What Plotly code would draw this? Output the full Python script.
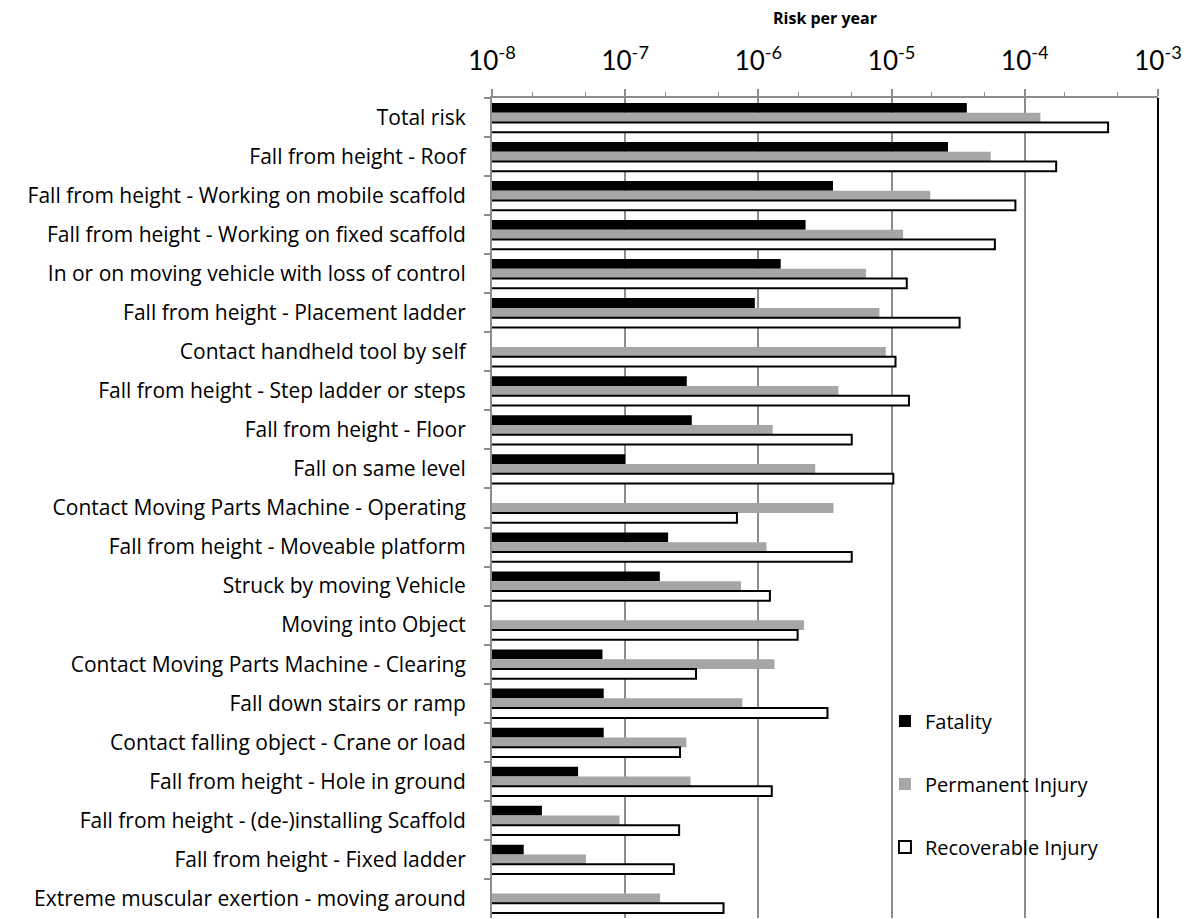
import plotly.graph_objects as go

# Risk categories, listed top to bottom
categories = [
    "Total risk",
    "Fall from height - Roof",
    "Fall from height - Working on mobile scaffold",
    "Fall from height - Working on fixed scaffold",
    "In or on moving vehicle with loss of control",
    "Fall from height - Placement ladder",
    "Contact handheld tool by self",
    "Fall from height - Step ladder or steps",
    "Fall from height - Floor",
    "Fall on same level",
    "Contact Moving Parts Machine - Operating",
    "Fall from height - Moveable platform",
    "Struck by moving Vehicle",
    "Moving into Object",
    "Contact Moving Parts Machine - Clearing",
    "Fall down stairs or ramp",
    "Contact falling object - Crane or load",
    "Fall from height - Hole in ground",
    "Fall from height - (de-)installing Scaffold",
    "Fall from height - Fixed ladder",
    "Extreme muscular exertion - moving around",
]

# Risk per year for each consequence class
fatality = [
    3.67e-5, 2.65e-5, 3.63e-6, 2.26e-6, 1.47e-6, 9.4e-7, None,
    2.9e-7, 3.16e-7, 1.0e-7, None, 2.1e-7, 1.82e-7, None,
    6.75e-8, 6.9e-8, 6.9e-8, 4.43e-8, 2.37e-8, 1.73e-8, None,
]
permanent_injury = [
    1.31e-4, 5.55e-5, 1.95e-5, 1.22e-5, 6.43e-6, 8.1e-6, 9.04e-6,
    3.99e-6, 1.28e-6, 2.67e-6, 3.66e-6, 1.15e-6, 7.4e-7, 2.2e-6,
    1.32e-6, 7.57e-7, 2.88e-7, 3.09e-7, 9.06e-8, 5.07e-8, 1.83e-7,
]
recoverable_injury = [
    4.22e-4, 1.72e-4, 8.5e-5, 5.96e-5, 1.30e-5, 3.24e-5, 1.07e-5,
    1.35e-5, 5.02e-6, 1.03e-5, 6.9e-7, 5.02e-6, 1.22e-6, 1.97e-6,
    3.4e-7, 3.3e-6, 2.58e-7, 1.26e-6, 2.54e-7, 2.32e-7, 5.47e-7,
]

tick_values = [1e-8, 1e-7, 1e-6, 1e-5, 1e-4, 1e-3]
tick_labels = ["10<sup>-8</sup>", "10<sup>-7</sup>", "10<sup>-6</sup>",
               "10<sup>-5</sup>", "10<sup>-4</sup>", "10<sup>-3</sup>"]

FONT = "'Open Sans', Lato, sans-serif"
TICKFONT = "Lato, 'Open Sans', sans-serif"
GRID = "#8c8c8c"

fig = go.Figure()
fig.add_trace(go.Bar(
    y=categories, x=fatality, orientation="h", name="Fatality",
    legendgroup="f", marker=dict(color="#000000", line=dict(width=0)),
))
fig.add_trace(go.Bar(
    y=categories, x=permanent_injury, orientation="h", name="Permanent Injury",
    legendgroup="p", marker=dict(color="#a6a6a6", line=dict(width=0)),
))
fig.add_trace(go.Bar(
    y=categories, x=recoverable_injury, orientation="h", name="Recoverable Injury",
    legendgroup="r", marker=dict(color="#ffffff", line=dict(color="#000000", width=2)),
))

fig.update_layout(
    width=1203, height=919,
    margin=dict(l=492, r=45, t=98, b=1),
    paper_bgcolor="white", plot_bgcolor="white",
    font=dict(family=FONT, color="#000000", size=18),
    barmode="group", bargap=0.25, bargroupgap=0,
    showlegend=True,
    legend=dict(
        x=0.59, y=0.264, xanchor="left", yanchor="top",
        bgcolor="rgba(0,0,0,0)", borderwidth=0,
        font=dict(family=FONT, size=20, color="#000000"),
        tracegroupgap=34, traceorder="grouped",
    ),
    xaxis=dict(
        type="log", range=[-8, -3], side="top",
        tickvals=tick_values, ticktext=tick_labels,
        tickfont=dict(family=TICKFONT, size=26, color="#000000"),
        ticks="outside", ticklen=7, tickwidth=2, tickcolor=GRID,
        ticklabelstandoff=9,
        minor=dict(ticks="outside", ticklen=4, tickwidth=1, tickcolor=GRID, showgrid=False),
        showgrid=True, gridcolor=GRID, gridwidth=2,
        showline=True, linecolor=GRID, linewidth=2,
        zeroline=False,
        title=dict(text="<b>Risk per year</b>", font=dict(family=FONT, size=16, color="#000000"),
                   standoff=12),
    ),
    yaxis=dict(
        autorange="reversed",
        ticks="outside", tickson="boundaries", ticklen=6, tickwidth=2, tickcolor=GRID,
        showline=True, linecolor=GRID, linewidth=2,
        showgrid=False, zeroline=False,
        tickfont=dict(family=FONT, size=21, color="#000000"),
        ticklabelstandoff=20,
    ),
    shapes=[
        # right frame edge
        dict(type="line", xref="paper", yref="paper", x0=1, x1=1, y0=0, y1=1,
             line=dict(color="#000000", width=2), layer="above"),
        # white backdrop behind the legend
        dict(type="rect", xref="paper", yref="paper", x0=0.59, x1=0.973,
             y0=0.046, y1=0.276, fillcolor="white", line=dict(width=0), layer="between"),
    ],
)

fig.write_html("out.html")
